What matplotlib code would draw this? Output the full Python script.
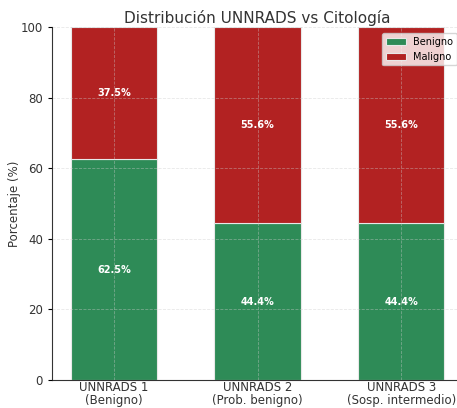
import matplotlib
matplotlib.use("Agg")
import matplotlib.pyplot as plt
import numpy as np

categories = ["UNNRADS 1\n(Benigno)", "UNNRADS 2\n(Prob. benigno)", "UNNRADS 3\n(Sosp. intermedio)"]
benigno = [62.5, 44.4, 44.4]
maligno = [37.5, 55.6, 55.6]

fig = plt.figure(figsize=(4.57, 4.08), dpi=100)
ax = fig.add_axes([52/457, 1-380/408, (463-52)/457, (380-27)/408])
x = np.arange(len(categories))
green = "#2e8b57"
red = "#b22222"
ax.bar(x, benigno, width=0.6, color=green, label="Benigno", edgecolor="#e8e8e8", linewidth=0.8, zorder=2)
ax.bar(x, maligno, width=0.6, bottom=benigno, color=red, label="Maligno", edgecolor="#e8e8e8", linewidth=0.8, zorder=2)
ax.grid(True, linestyle="--", color="#cccccc", linewidth=0.6, alpha=0.45, zorder=3)
ax.set_axisbelow(False)
for i in range(len(categories)):
    ax.text(x[i], benigno[i]/2, f"{benigno[i]:.1f}%", ha="center", va="center", color="white", fontsize=7, fontweight="bold", zorder=4)
    ax.text(x[i], benigno[i] + maligno[i]/2, f"{maligno[i]:.1f}%", ha="center", va="center", color="white", fontsize=7, fontweight="bold", zorder=4)
ax.set_ylim(0, 100)
ax.set_xlim(-0.43, 2.43)
ax.set_xticks(x)
ax.set_xticklabels(categories, fontsize=8.5, color="#333333", linespacing=1.0)
ax.tick_params(axis="y", labelsize=8.5, labelcolor="#333333", length=3)
ax.tick_params(axis="x", length=0, pad=1)
ax.set_yticks([0, 20, 40, 60, 80, 100])
ax.set_ylabel("Porcentaje (%)", fontsize=8.5, color="#333333")
ax.yaxis.set_label_coords(-0.075, 0.5)
ax.set_title("Distribución UNNRADS vs Citología", fontsize=11, color="#333333", pad=3)
for s in ["top", "right"]:
    ax.spines[s].set_visible(False)
ax.spines["left"].set_color("#333333")
ax.spines["bottom"].set_color("#333333")
leg = ax.legend(loc="upper right", fontsize=7, frameon=True, framealpha=0.8, borderaxespad=0.6)
leg.set_zorder(5)
fig.savefig("out.png", dpi=100)
